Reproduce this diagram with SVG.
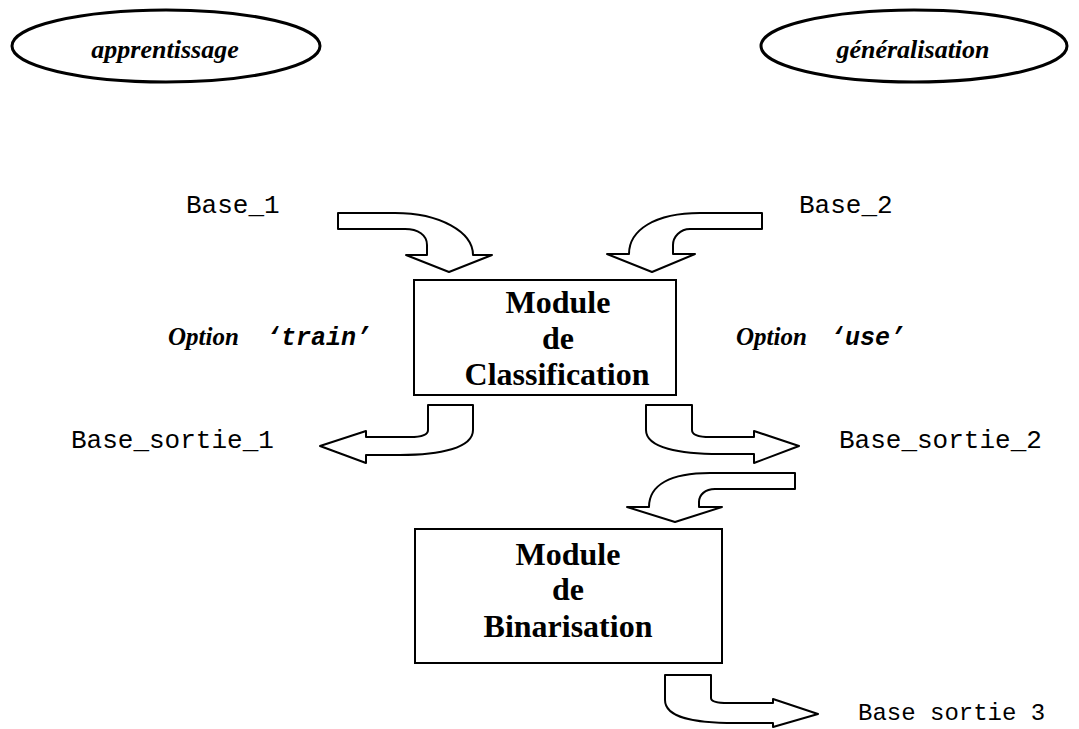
<svg xmlns="http://www.w3.org/2000/svg" width="1079" height="729" viewBox="0 0 1079 729">
<style>
.bg{fill:#fff}
.oval{fill:#fff;stroke:#000;stroke-width:3}
.box{fill:#fff;stroke:#000;stroke-width:2}
.arr{fill:#fff;stroke:#000;stroke-width:2;stroke-linejoin:round}
.title{font-family:"Liberation Serif",serif;font-style:italic;font-weight:bold;font-size:26px;text-anchor:middle}
.mod{font-family:"Liberation Serif",serif;font-weight:bold;font-size:32px;text-anchor:middle}
.mono{font-family:"Liberation Mono",monospace;font-size:26px}
.opt{font-family:"Liberation Serif",serif;font-style:italic;font-weight:bold;font-size:25px}
.optm{font-family:"Liberation Mono",monospace;font-style:italic;font-weight:bold;font-size:25px}
</style>
<rect class="bg" x="0" y="0" width="1079" height="729"/>
<g id="apprentissage">
<ellipse class="oval" cx="166" cy="46" rx="154" ry="36"/>
<text class="title" x="165" y="58">apprentissage</text>
</g>
<g id="generalisation">
<ellipse class="oval" cx="914" cy="46" rx="153" ry="36"/>
<text class="title" x="913" y="58">généralisation</text>
</g>
<g id="base1"><text class="mono" x="186" y="213">Base_1</text></g>
<g id="base2"><text class="mono" x="799" y="213">Base_2</text></g>
<g id="option-train"><text class="opt" x="168" y="345">Option</text><text class="optm" x="266" y="345">‘train’</text></g>
<g id="option-use"><text class="opt" x="736" y="345">Option</text><text class="optm" x="830" y="345">‘use’</text></g>
<g id="module-classification">
<rect class="box" x="414" y="280" width="262" height="115"/>
<text class="mod" x="558" y="313">Module</text>
<text class="mod" x="558" y="349">de</text>
<text class="mod" x="557" y="385">Classification</text>
</g>
<g id="base-sortie-1"><text class="mono" x="71" y="448">Base_sortie_1</text></g>
<g id="base-sortie-2"><text class="mono" x="839" y="448">Base_sortie_2</text></g>
<g id="module-binarisation">
<rect class="box" x="415" y="529" width="307" height="134"/>
<text class="mod" x="568" y="565">Module</text>
<text class="mod" x="568" y="600">de</text>
<text class="mod" x="568" y="637">Binarisation</text>
</g>
<g id="base-sortie-3"><text class="mono" x="858" y="720" style="font-size:24px">Base sortie 3</text></g>
<g id="connectors">
<path class="arr" d="M338,213 L395,213 C440,213 473,232 473,255 L492,255 L449,272 L406,255 L427,255 L427,245 C427,235 418,229 405,229 L338,229 Z"/>
<path class="arr" d="M762,213 L762,229 L690,229 C680,229 673,237 673,245 L673,254 L695,254 L652,272 L607,254 L629,254 C629,230 655,213 700,213 Z"/>
<path class="arr" d="M428,405 L473,405 L473,430 C473,448 440,455 400,455 L366,455 L366,463 L320,446 L366,431 L366,437 L410,437 C420,437 428,435 428,430 Z"/>
<path class="arr" d="M646,405 L692,405 L692,430 C692,435 700,437 710,437 L754,437 L754,431 L799,446 L754,463 L754,454 L720,454 C680,454 646,448 646,430 Z"/>
<path class="arr" d="M795,473 L795,489 L715,489 C705,489 699,495 699,502 L699,507 L722,507 L675,522 L627,507 L649,507 C649,485 670,473 710,473 Z"/>
<path class="arr" d="M665,675 L711,675 L711,698 C711,702 718,703 728,703 L773,703 L773,699 L818,714 L773,727 L773,723 L735,723 C695,723 665,718 665,700 Z"/>
</g>
</svg>
